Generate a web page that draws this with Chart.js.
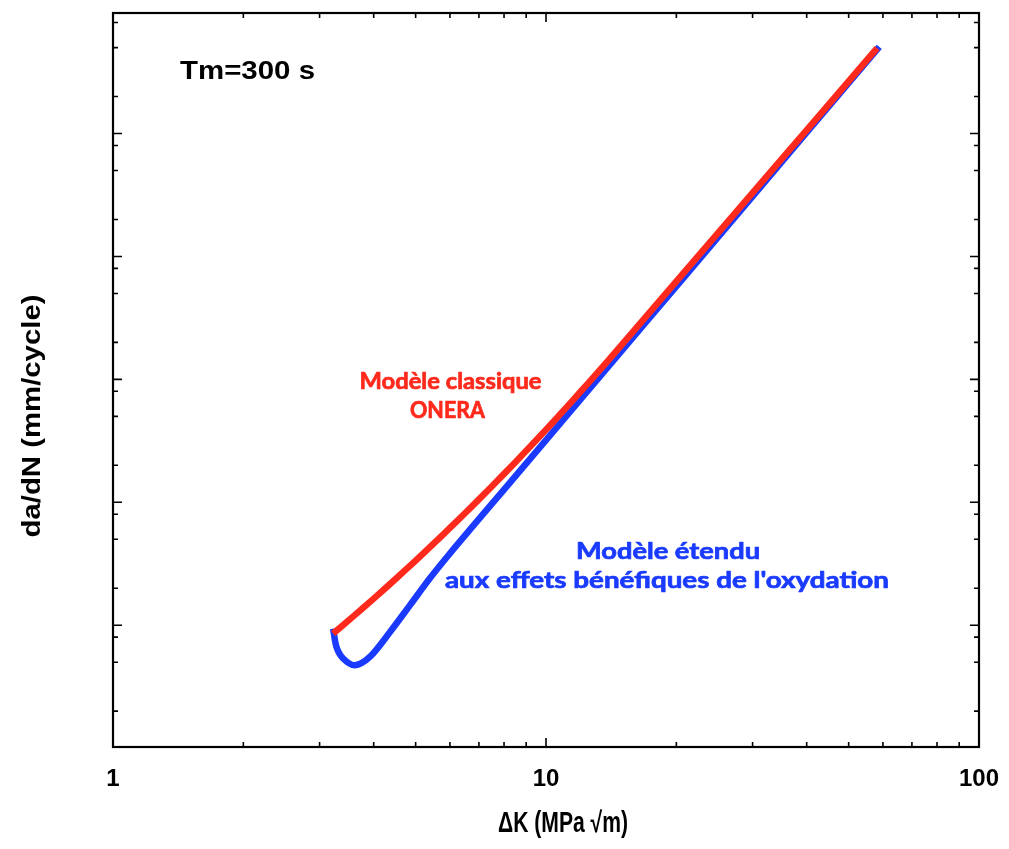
<!DOCTYPE html>
<html>
<head>
<meta charset="utf-8">
<script src="https://cdn.jsdelivr.net/npm/chart.js@4"></script>
<style>
html,body{margin:0;padding:0;background:#fff;}
#wrap{width:1009px;height:849px;}
</style>
</head>
<body>
<div id="wrap"><canvas id="c" width="1009" height="849"></canvas></div>
<script>
// ---- data ----
const deltaKRed = [3.224, 3.6, 4.0, 4.5, 5.0, 5.5, 6.0, 6.5, 7.0, 8.0, 9.0, 10, 11, 12, 13, 14.82, 20, 30, 40, 58.16];
const dadNRed   = [8.56e-6, 1.192e-5, 1.647e-5, 2.388e-5, 3.36e-5, 4.608e-5, 6.186e-5, 8.144e-5, 1.056e-4, 1.703e-4, 2.624e-4, 3.90e-4, 5.62e-4, 7.89e-4, 1.083e-3, 1.838e-3, 6.266e-3, 3.29e-2, 0.1068, 0.4953];

const deltaKBlue = [3.224, 3.282, 3.400, 3.618, 3.918, 4.358, 4.848, 5.393, 5.998, 6.672, 7.420, 8.0, 10, 12, 15, 20, 30, 40, 58.85];
const dadNBlue   = [9.40e-6, 6.66e-6, 5.36e-6, 4.73e-6, 5.52e-6, 8.77e-6, 1.45e-5, 2.41e-5, 3.833e-5, 5.985e-5, 9.296e-5, 1.269e-4, 3.208e-4, 6.85e-4, 1.731e-3, 5.72e-3, 3.088e-2, 0.1021, 0.5075];

const xTickValues = [1,2,3,4,5,6,7,8,9,10,20,30,40,50,60,70,80,90,100];
const xTickLabels = {1:'1', 10:'10', 100:'100'};
const yMajorTicks = [1e-6,1e-5,1e-4,1e-3,1e-2,1e-1,1];
const yMinorFactors = [2,5,8];
const xRange = [1, 100];
const yRange = [1.022e-6, 0.9566];

const seriesNames = ['Modèle classique ONERA', "Modèle étendu aux effets bénéfiques de l'oxydation"];
const RED = '#ff2a1c';
const BLUE = '#1a3bff';

const toPts = (xs, ys) => xs.map((v, i) => ({x: v, y: ys[i]}));

const framePlugin = {
  id: 'frameTicks',
  afterDatasetsDraw(chart) {
    const {ctx, chartArea: a, scales: {x, y}} = chart;
    ctx.save();
    ctx.strokeStyle = '#000';
    ctx.lineCap = 'butt';
    ctx.lineWidth = 1.6;
    ctx.beginPath();
    xTickValues.forEach(v => {
      const px = x.getPixelForValue(v);
      if (px <= a.left + 1 || px >= a.right - 1) return;
      const len = xTickLabels[v] ? 9 : 5;
      ctx.moveTo(px, a.bottom); ctx.lineTo(px, a.bottom - len);
      ctx.moveTo(px, a.top); ctx.lineTo(px, a.top + len);
    });
    const yTicks = [];
    yMajorTicks.forEach(m => {
      yTicks.push({v: m, major: true});
      yMinorFactors.forEach(f => yTicks.push({v: m * f, major: false}));
    });
    yTicks.forEach(t => {
      if (t.v < yRange[0] || t.v > yRange[1]) return;
      const py = y.getPixelForValue(t.v);
      const len = t.major ? 9 : 5;
      ctx.moveTo(a.left, py); ctx.lineTo(a.left + len, py);
      ctx.moveTo(a.right, py); ctx.lineTo(a.right - len, py);
    });
    ctx.stroke();
    ctx.lineWidth = 2.2;
    ctx.strokeRect(a.left, a.top, a.right - a.left, a.bottom - a.top);
    ctx.restore();
  }
};

// draw text at a given font size, squeezed/stretched horizontally to a target width
function drawFitted(ctx, text, x, y, size, family, targetW, align, embolden) {
  ctx.font = `bold ${size}px ${family}`;
  const w = ctx.measureText(text).width;
  const k = targetW / w;
  ctx.save();
  ctx.translate(x, y);
  ctx.scale(k, 1);
  ctx.textAlign = align;
  ctx.fillText(text, 0, 0);
  if (embolden) {
    ctx.lineWidth = embolden;
    ctx.strokeStyle = ctx.fillStyle;
    ctx.lineJoin = 'round';
    ctx.strokeText(text, 0, 0);
  }
  ctx.restore();
}

const textPlugin = {
  id: 'texts',
  afterDraw(chart) {
    const ctx = chart.ctx;
    ctx.save();
    const annFam = 'Lato, "Open Sans", sans-serif';
    const helv = '"Liberation Sans", Arial, sans-serif';
    ctx.textBaseline = 'alphabetic';
    // Tm label
    ctx.fillStyle = '#000';
    drawFitted(ctx, 'Tm=300 s', 180, 79, 26.5, helv, 135, 'left', 0);
    // red annotation
    ctx.fillStyle = RED;
    drawFitted(ctx, 'Modèle classique', 450.5, 389, 22, annFam, 182, 'center', 0.7);
    drawFitted(ctx, 'ONERA', 447.5, 418, 22, annFam, 75, 'center', 0.7);
    // blue annotation
    ctx.fillStyle = BLUE;
    drawFitted(ctx, 'Modèle étendu', 668, 559, 22, annFam, 184, 'center', 0.7);
    drawFitted(ctx, "aux effets bénéfiques de l'oxydation", 667, 588, 22, annFam, 444, 'center', 0.7);
    // y title
    ctx.fillStyle = '#000';
    ctx.save();
    ctx.translate(40, 416);
    ctx.rotate(-Math.PI / 2);
    drawFitted(ctx, 'da/dN (mm/cycle)', 0, 0, 26, helv, 243, 'center', 0);
    ctx.restore();
    // x title (condensed look)
    drawFitted(ctx, 'ΔK (MPa √m)', 563, 831.5, 29, helv, 130, 'center', 0);
    ctx.restore();
  }
};

new Chart(document.getElementById('c'), {
  type: 'scatter',
  data: {
    datasets: [
      {
        label: seriesNames[0],
        data: toPts(deltaKRed, dadNRed),
        showLine: true,
        borderColor: RED,
        backgroundColor: RED,
        borderWidth: 6.5,
        pointRadius: 0,
        tension: 0.3,
        borderCapStyle: 'butt'
      },
      {
        label: seriesNames[1],
        data: toPts(deltaKBlue, dadNBlue),
        showLine: true,
        borderColor: BLUE,
        backgroundColor: BLUE,
        borderWidth: 6.5,
        pointRadius: 0,
        tension: 0.3,
        borderCapStyle: 'butt'
      }
    ]
  },
  options: {
    responsive: false,
    animation: false,
    devicePixelRatio: 1,
    layout: {padding: {left: 113, right: 30, top: 13, bottom: 0}},
    plugins: {legend: {display: false}, tooltip: {enabled: false}, title: {display: false}},
    scales: {
      x: {
        type: 'logarithmic',
        position: 'bottom',
        min: xRange[0],
        max: xRange[1],
        afterBuildTicks: s => { s.ticks = xTickValues.map(v => ({value: v, major: !!xTickLabels[v]})); },
        afterFit: s => { s.height = 102; s.paddingLeft = 0; s.paddingRight = 0; },
        ticks: {
          autoSkip: false,
          maxRotation: 0,
          minRotation: 0,
          padding: 18,
          color: '#000',
          font: {family: '"Liberation Sans", Arial, sans-serif', weight: 'bold', size: 24},
          callback: v => xTickLabels[v] || ''
        },
        grid: {display: false, drawTicks: false},
        border: {display: false}
      },
      y: {
        type: 'logarithmic',
        display: false,
        min: yRange[0],
        max: yRange[1]
      }
    }
  },
  plugins: [framePlugin, textPlugin]
});
</script>
</body>
</html>
